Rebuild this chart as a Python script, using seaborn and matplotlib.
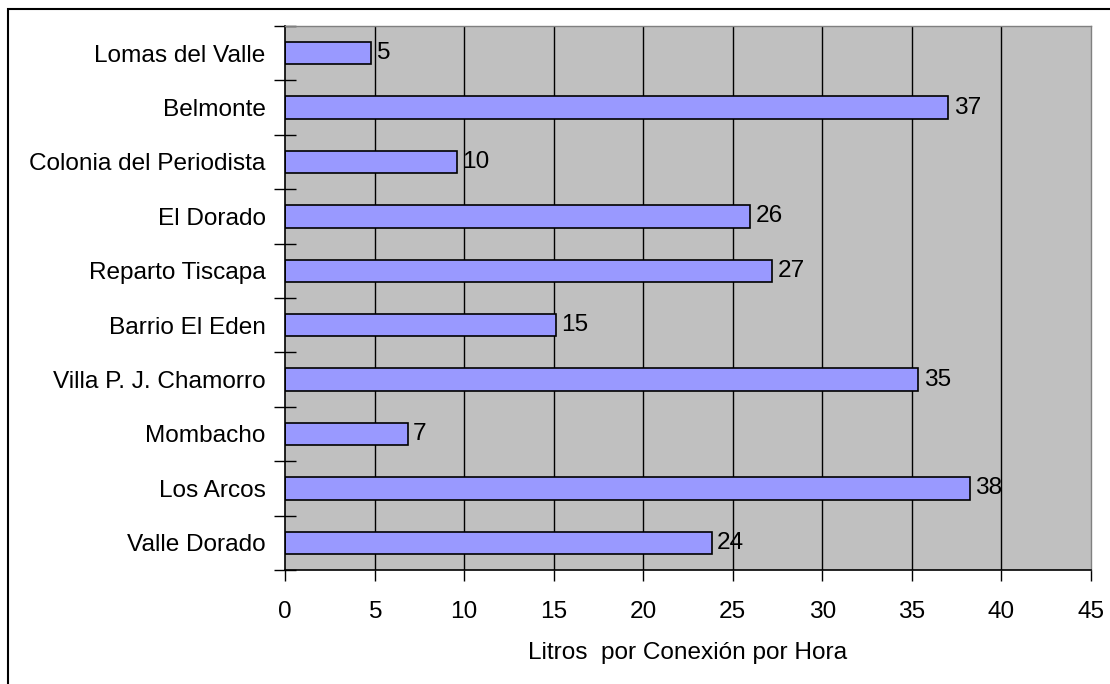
import matplotlib
matplotlib.use('Agg')
import matplotlib.pyplot as plt
import seaborn as sns
import pandas as pd
from matplotlib.patches import Rectangle
from matplotlib.ticker import FixedLocator

# --- DATA --- #
barrios = ['Lomas del Valle', 'Belmonte', 'Colonia del Periodista', 'El Dorado',
           'Reparto Tiscapa', 'Barrio El Eden', 'Villa P. J. Chamorro', 'Mombacho',
           'Los Arcos', 'Valle Dorado']
litros = [4.78, 37.04, 9.58, 25.98, 27.19, 15.11, 35.35, 6.85, 38.25, 23.82]
x_ticks = [0, 5, 10, 15, 20, 25, 30, 35, 40, 45]

df = pd.DataFrame({'barrio': barrios, 'litros': litros})

sns.set_style('white')
plt.rcParams['font.family'] = ['Liberation Sans', 'DejaVu Sans']
plt.rcParams['text.color'] = 'black'
plt.rcParams['axes.labelcolor'] = 'black'
plt.rcParams['xtick.color'] = 'black'
plt.rcParams['ytick.color'] = 'black'

fs = 17.6

fig = plt.figure(figsize=(11.1, 6.84), dpi=100)
ax = fig.add_axes([285 / 1110, 1 - 570 / 684, 806 / 1110, 544 / 684])
ax.set_facecolor('#C0C0C0')

# vertical grid lines
for xv in x_ticks[1:-1]:
    ax.axvline(xv, color='black', lw=1, zorder=1)

sns.barplot(data=df, y='barrio', x='litros', orient='h', color='#9999FF',
            saturation=1, width=0.41, edgecolor='black', linewidth=1.2,
            ax=ax, zorder=2)

# value labels at bar ends
for i, v in enumerate(litros):
    ax.text(v + 0.3, i, f'{round(v)}', va='center', ha='left', fontsize=fs,
            color='black', zorder=3)

ax.set_xlim(0, 45)
ax.set_ylim(len(barrios) - 0.5, -0.5)
ax.set_xticks(x_ticks)
ax.set_xticklabels([str(t) for t in x_ticks], fontsize=fs)
ax.tick_params(axis='x', direction='out', bottom=True, length=8, width=1, color='black', pad=14)
ax.tick_params(axis='y', which='major', length=0, pad=14, labelsize=fs)
ax.yaxis.set_minor_locator(FixedLocator([i - 0.5 for i in range(len(barrios) + 1)]))
ax.tick_params(axis='y', which='minor', left=True, direction='inout', length=16, width=1, color='black')

ax.set_ylabel('')
ax.set_xlabel('Litros  por Conexión por Hora', fontsize=fs, labelpad=14)

for side in ['left', 'bottom']:
    ax.spines[side].set_color('black')
    ax.spines[side].set_linewidth(1.2)
for side in ['top', 'right']:
    ax.spines[side].set_color('#808080')
    ax.spines[side].set_linewidth(1)
    ax.spines[side].set_visible(True)

# outer chart border (partly cut off in the original)
fig.patches.append(Rectangle((8 / 1110, -0.1), 1.2, 1.1 - 9 / 684, transform=fig.transFigure,
                             fill=False, edgecolor='black', lw=1.5))

fig.savefig('out.png', dpi=100)
